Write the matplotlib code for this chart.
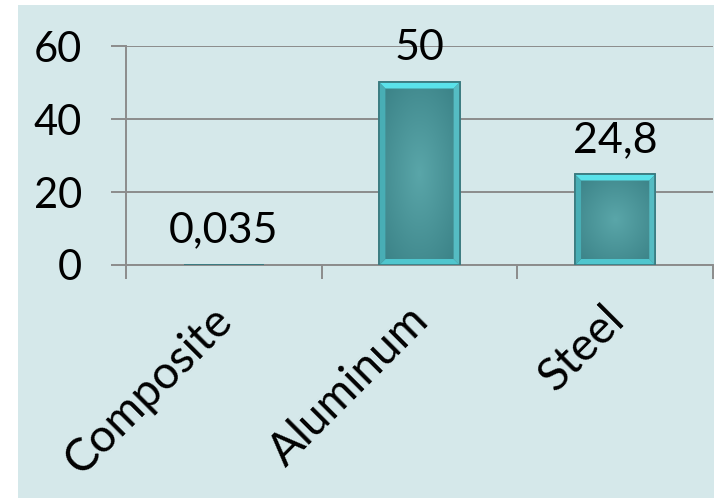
import numpy as np
import matplotlib
matplotlib.use("Agg")
import matplotlib.pyplot as plt
from matplotlib.patches import Rectangle, Polygon
from matplotlib.colors import to_rgb
from matplotlib.transforms import ScaledTranslation

plt.rcParams['font.family'] = ['Lato', 'DejaVu Sans']

categories = ['Composite', 'Aluminum', 'Steel']
values = [0.035, 50, 24.8]
y_ticks = [0, 20, 40, 60]

W, H = 714, 498
fig = plt.figure(figsize=(W / 100, H / 100), dpi=100)
fig.patch.set_facecolor('white')

# light panel behind the chart
fig.add_artist(Rectangle((18 / W, 0), 1 - 18 / W, 1 - 5 / H,
                         transform=fig.transFigure, facecolor='#d5e8ea',
                         edgecolor='none', zorder=-10))

ax = fig.add_axes([126 / W, 233 / H, 587 / W, 219 / H])
ax.patch.set_alpha(0)

grid_col = '#8c8c8c'
x = np.arange(len(categories)) + 0.5
bar_w = 0.41
bars = ax.bar(x, values, width=bar_w, color='#3e878c', edgecolor='#3a7a80',
              linewidth=1.2, zorder=3)

ax.set_xlim(0, len(categories))
ax.set_ylim(0, 60)

for s in ['top', 'right']:
    ax.spines[s].set_visible(False)
for s in ['left', 'bottom']:
    ax.spines[s].set_color(grid_col)
    ax.spines[s].set_linewidth(1.4)

ax.set_yticks(y_ticks)
ax.yaxis.grid(True, color=grid_col, linewidth=1.4, zorder=0)
ax.set_axisbelow(True)
ax.tick_params(axis='y', direction='out', length=10.8, width=1.4,
               color=grid_col, labelsize=30, pad=21)

# category separators as major ticks, names on minor ticks
ax.set_xticks(np.arange(len(categories) + 1))
ax.set_xticklabels([])
ax.set_xticks(x, minor=True)
ax.set_xticklabels(categories, minor=True, rotation=45, ha='right',
                   va='top', rotation_mode='anchor', fontsize=33)
ax.tick_params(axis='x', which='major', direction='out', length=10,
               width=1.4, color=grid_col)
ax.tick_params(axis='x', which='minor', length=0, pad=24)
shift = ScaledTranslation(-9 / 72, 0, fig.dpi_scale_trans)
for lab in ax.get_xticklabels(minor=True):
    lab.set_transform(lab.get_transform() + shift)

fig.canvas.draw()

# pixel size in data units
p0 = ax.transData.inverted().transform((0, 0))
p1 = ax.transData.inverted().transform((1, 1))
dx_px, dy_px = p1[0] - p0[0], p1[1] - p0[1]

center = np.array(to_rgb('#5aa6a9'))
edge = np.array(to_rgb('#387f84'))

for b in bars:
    x0, y0 = b.get_x(), b.get_y()
    x1, y1 = x0 + b.get_width(), y0 + b.get_height()
    # radial shading of the bar face
    u = np.linspace(-1, 1, 80)
    v = np.linspace(-1, 1, 200)
    uu, vv = np.meshgrid(u, v)
    r = np.clip(np.sqrt(uu ** 2 + vv ** 2) / np.sqrt(2), 0, 1)[..., None]
    img = center * (1 - r) + edge * r
    im = ax.imshow(img, extent=(x0, x1, y0, y1), aspect='auto',
                   origin='lower', zorder=3.5, interpolation='bilinear')
    im.set_clip_path(b)

    bx = 6 * dx_px
    by = min(6 * dy_px, (y1 - y0) / 2)
    bevels = [
        ([(x0, y1), (x1, y1), (x1 - bx, y1 - by), (x0 + bx, y1 - by)], '#5ae2ea'),
        ([(x0, y0), (x1, y0), (x1 - bx, y0 + by), (x0 + bx, y0 + by)], '#4fc6ce'),
        ([(x0, y0), (x0 + bx, y0 + by), (x0 + bx, y1 - by), (x0, y1)], '#48aeb5'),
        ([(x1, y0), (x1 - bx, y0 + by), (x1 - bx, y1 - by), (x1, y1)], '#55bcc3'),
    ]
    for pts, c in bevels:
        ax.add_patch(Polygon(pts, closed=True, facecolor=c, edgecolor='none',
                             zorder=4))
    ax.add_patch(Rectangle((x0, y0), x1 - x0, y1 - y0, facecolor='none',
                           edgecolor='#3a7a80', linewidth=1.2, zorder=4.5))

    val = b.get_height()
    ax.annotate(f"{val:g}".replace('.', ','), (x0 + (x1 - x0) / 2, y1),
                xytext=(0, 16), textcoords='offset points', ha='center',
                va='baseline', fontsize=31, color='black', zorder=5,
                annotation_clip=False)

ax.set_xlim(0, len(categories))
ax.set_ylim(0, 60)

fig.savefig('out.png', dpi=100)
